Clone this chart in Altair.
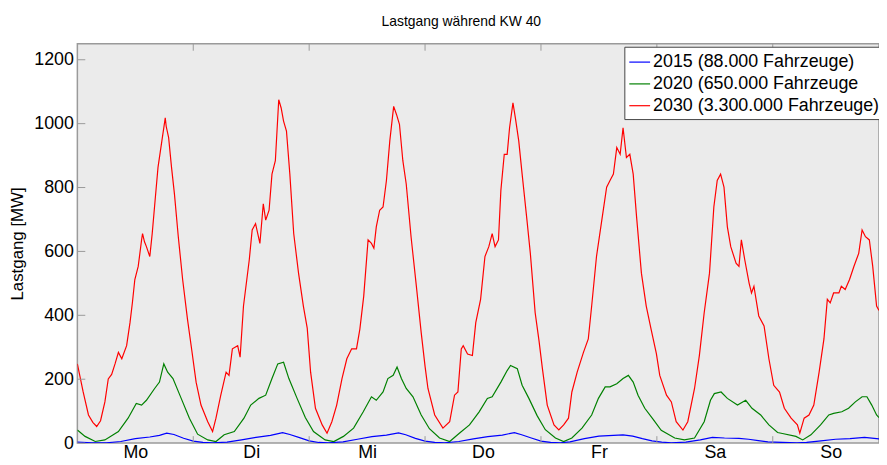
import altair as alt
import pandas as pd

# ---- data (hours since Monday 00:00, MW) ----
days = ["Mo", "Di", "Mi", "Do", "Fr", "Sa", "So"]
series_labels = ["2015 (88.000 Fahrzeuge)", "2020 (650.000 Fahrzeuge", "2030 (3.300.000 Fahrzeuge)"]
series_colors = ["#0000ff", "#008000", "#ff0000"]
y_ticks = [0, 200, 400, 600, 800, 1000, 1200]
day_bounds = [24, 48, 72, 96, 120, 144]
day_centers = [12, 36, 60, 84, 108, 132, 156]

blue_2015 = [
    (0, 3), (3, 1), (6, 1), (9, 5), (12, 14), (15, 19), (17, 24), (18.5, 31), (20, 27), (22, 15), (24, 6), (26, 2), (28, 1),
    (31, 3), (34, 10), (37, 18), (40, 24), (42.5, 33), (44, 27), (46, 17), (48, 7), (50, 2), (52, 1),
    (55, 4), (58, 12), (61, 20), (64, 25), (66.5, 32), (68, 26), (70, 15), (72, 6), (74, 2), (76, 1),
    (79, 5), (82, 13), (85, 20), (88, 25), (90.5, 33), (92, 26), (94, 16), (96, 6), (98, 2), (100, 1),
    (102, 4), (105, 14), (108, 22), (111, 24), (113, 26), (115, 22), (117, 14), (119, 7), (121, 3), (123, 1),
    (126, 3), (129, 10), (131.5, 18), (134, 16), (137, 15), (139, 12), (141, 8), (143, 4), (146, 2), (149, 1),
    (151, 2), (154, 7), (157, 12), (160, 14), (163, 18), (165, 15), (166, 13),
]

green_2020 = [
    (0, 41), (1.6, 21), (3.7, 5), (5.7, 10), (8.5, 36), (10.5, 78), (12.2, 124), (13.3, 119), (14.3, 134), (16.0, 171),
    (17.0, 191), (17.9, 248), (18.7, 222), (19.8, 202), (21.5, 140), (23.2, 78), (24.9, 28),
    (27.0, 10), (28.7, 5), (30.4, 26), (32.5, 36), (34.5, 78), (35.9, 119), (37.6, 140), (39.0, 150), (40.3, 202),
    (41.5, 248), (42.7, 253), (43.8, 202), (45.5, 140), (47.2, 80), (48.9, 36),
    (51.3, 10), (53.1, 5), (55.1, 21), (57.2, 47), (59.2, 98), (60.9, 145), (61.9, 134), (63.3, 160), (64.3, 202),
    (65.4, 212), (66.2, 238), (67.1, 202), (68.1, 171), (69.5, 145), (71.2, 88), (72.9, 45),
    (75.0, 16), (77.1, 5), (79.1, 31), (81.2, 57), (83.2, 98), (84.9, 140), (85.9, 145), (87.7, 191), (89.0, 227),
    (89.7, 243), (91.1, 233), (92.1, 181), (93.5, 140), (95.2, 86), (96.9, 42),
    (99.0, 16), (100.7, 5), (102.4, 16), (104.5, 47), (106.5, 88), (107.9, 140), (109.3, 176), (110.3, 176),
    (111.7, 186), (113.0, 202), (114.1, 212), (115.1, 191), (116.1, 150), (117.5, 109), (119.2, 75), (120.9, 40),
    (123.7, 16), (125.7, 10), (127.8, 16), (129.8, 67), (131.1, 134), (131.9, 155), (133.3, 160), (134.6, 140),
    (136.7, 119), (138.4, 134), (139.7, 109), (141.5, 88), (143.2, 57), (145.0, 33),
    (146.0, 30), (148.8, 21), (150.2, 10), (151.9, 26), (153.9, 57), (155.6, 88), (156.6, 93), (158.3, 98),
    (159.7, 109), (161.1, 129), (162.5, 145), (163.5, 145), (164.5, 119), (165.5, 88), (166.0, 80),
]

red_2030 = [
    (0, 248), (1.2, 160), (2.3, 88), (3.2, 65), (4.0, 52), (4.8, 70), (5.7, 129), (6.4, 201), (7.1, 215), (7.8, 248),
    (8.5, 284), (9.2, 264), (10.2, 305), (10.9, 377), (11.4, 440), (11.9, 512), (12.6, 553), (13.3, 636), (13.5, 656),
    (13.9, 630), (14.3, 615), (15.0, 584), (15.5, 656), (16.1, 760), (16.7, 863), (17.5, 946), (18.2, 1018),
    (18.4, 991), (18.9, 956), (19.5, 863), (20.1, 780), (20.9, 646), (21.8, 512), (22.8, 388), (23.7, 290),
    (24.3, 223), (24.6, 190),
    (25.6, 119), (27.0, 67), (28.0, 36), (28.7, 78), (29.7, 150), (30.8, 222), (31.4, 212), (32.1, 295), (33.2, 305),
    (33.7, 269), (34.4, 429), (35.6, 574), (36.2, 667), (36.9, 687), (37.8, 625), (38.5, 749), (39.0, 698),
    (39.7, 729), (40.3, 842), (41.0, 884), (41.7, 1075), (42.2, 1049), (42.7, 1008), (43.3, 977), (44.0, 842),
    (44.8, 656), (45.8, 532), (46.8, 429), (47.6, 360), (48.3, 222), (49.3, 109),
    (50.7, 57), (51.7, 31), (52.7, 67), (53.7, 119), (54.8, 202), (55.8, 264), (56.8, 295), (57.8, 295), (58.5, 357),
    (59.3, 460), (60.2, 636), (60.9, 625), (61.4, 610), (61.9, 677), (62.6, 729), (63.3, 739), (64.0, 822),
    (64.7, 946), (65.5, 1054), (66.1, 1028), (66.7, 998), (67.4, 884), (68.1, 811), (69.1, 646), (70.2, 491),
    (71.2, 346), (72.0, 240), (72.6, 171),
    (74.0, 88), (75.7, 47), (77.1, 67), (78.1, 150), (78.8, 160), (79.5, 295), (79.9, 305), (80.8, 279), (81.8, 274),
    (82.5, 377), (83.5, 450), (84.4, 584), (85.2, 615), (85.9, 656), (86.5, 615), (87.2, 636), (87.7, 791),
    (88.4, 904), (89.0, 904), (89.5, 987), (90.2, 1065), (90.7, 1018), (91.4, 946), (92.1, 842), (93.1, 698),
    (93.8, 594), (94.8, 408), (95.6, 320), (96.3, 233), (97.3, 119),
    (98.7, 57), (99.7, 41), (100.7, 57), (101.7, 78), (102.4, 160), (103.5, 222), (104.8, 284), (105.8, 326),
    (106.5, 429), (107.5, 584), (108.6, 698), (109.6, 801), (110.3, 822), (111.0, 842), (111.7, 925), (112.4, 904),
    (113.0, 987), (113.7, 894), (114.4, 904), (115.1, 842), (115.8, 708), (116.8, 532), (117.8, 429), (118.8, 357),
    (119.9, 280), (120.6, 212),
    (122.0, 150), (123.0, 129), (124.0, 67), (125.4, 41), (126.4, 67), (127.8, 171), (128.8, 274), (129.8, 408),
    (130.9, 532), (131.8, 739), (132.5, 822), (133.2, 842), (133.9, 801), (134.6, 677), (135.3, 615), (136.4, 563),
    (137.0, 553), (137.5, 636), (138.2, 574), (139.1, 501), (139.6, 470), (140.1, 491), (141.1, 398), (142.2, 367),
    (143.2, 264), (144.2, 181),
    (145.4, 160), (146.4, 109), (147.8, 78), (149.1, 57), (149.6, 31), (150.5, 78), (151.5, 88), (152.5, 119),
    (153.6, 222), (154.6, 326), (155.3, 450), (155.9, 439), (156.6, 470), (157.7, 470), (158.2, 491), (159.0, 481),
    (159.9, 512), (160.8, 553), (161.8, 594), (162.5, 667), (163.2, 646), (164.0, 636), (164.7, 553), (165.5, 429),
    (166.0, 415),
]

# ---- build table ----
rows = []
for label, pts in zip(series_labels, [blue_2015, green_2020, red_2030]):
    for h, v in pts:
        rows.append({"h": h, "v": v, "s": label})
df = pd.DataFrame(rows)

FONT = "Liberation Sans, Arial, Helvetica, sans-serif"
W, H = 809, 403
AX = "#9a9a9a"
FS = 18

xscale = alt.Scale(domain=[0, 166], nice=False, zero=False)
yscale = alt.Scale(domain=[0, 1250], nice=False)

day_arr = "[" + ",".join("'%s'" % d for d in days) + "]"

lines = alt.Chart(df).mark_line(strokeWidth=1.2, clip=True).encode(
    x=alt.X("h:Q", scale=xscale, title=None,
            axis=alt.Axis(values=day_centers, labelExpr=f"{day_arr}[floor(datum.value/24)]",
                          domain=False, ticks=False, grid=False, labelFontSize=FS, labelPadding=1,
                          labelColor="black", labelFont=FONT, labelFlush=False, labelOverlap=False)),
    y=alt.Y("v:Q", scale=yscale, title="Lastgang [MW]",
            axis=alt.Axis(values=y_ticks, format="d", domain=False, ticks=False, grid=False,
                          labelFontSize=FS, labelPadding=4, labelColor="black", labelFont=FONT,
                          titleFont=FONT, titleFontSize=17, titleFontWeight="normal", titleColor="black",
                          titleAngle=270, titleAlign="center", titleBaseline="middle",
                          titleX=-60, titleY=H / 2)),
    color=alt.Color("s:N", scale=alt.Scale(domain=series_labels, range=series_colors),
                    sort=series_labels,
                    legend=alt.Legend(title=None, orient="none", legendX=552, legendY=3,
                                      symbolType="stroke", symbolSize=441, symbolStrokeWidth=1.2,
                                      labelFontSize=18, labelFont=FONT, labelColor="black",
                                      labelOffset=2, rowPadding=1, padding=4,
                                      strokeColor="#444444", fillColor="white", labelLimit=400)),
)

bounds_df = pd.DataFrame({"b": day_bounds})
yt_df = pd.DataFrame({"t": y_ticks})

top_ticks = alt.Chart(bounds_df).mark_rule(color=AX, strokeWidth=1).encode(
    x=alt.X("b:Q", scale=xscale), y=alt.value(0), y2=alt.value(7))
bot_ticks = alt.Chart(bounds_df).mark_rule(color=AX, strokeWidth=1).encode(
    x=alt.X("b:Q", scale=xscale), y=alt.value(H - 7), y2=alt.value(H))
left_ticks = alt.Chart(yt_df).mark_rule(color=AX, strokeWidth=1).encode(
    y=alt.Y("t:Q", scale=yscale), x=alt.value(0), x2=alt.value(8))

chart = alt.layer(lines, top_ticks, bot_ticks, left_ticks).properties(
    width=W, height=H,
    title=alt.TitleParams("Lastgang während KW 40", font=FONT, fontSize=14, fontWeight="normal",
                          color="black", offset=14, dx=-17),
    autosize=alt.AutoSizeParams(type="none"),
    padding={"left": 70, "top": 34, "right": 0, "bottom": 20},
).configure_view(fill="#ebebeb", stroke=AX, strokeWidth=1.5)

chart.save("out.html", embed_options={"renderer": "svg", "actions": False})
